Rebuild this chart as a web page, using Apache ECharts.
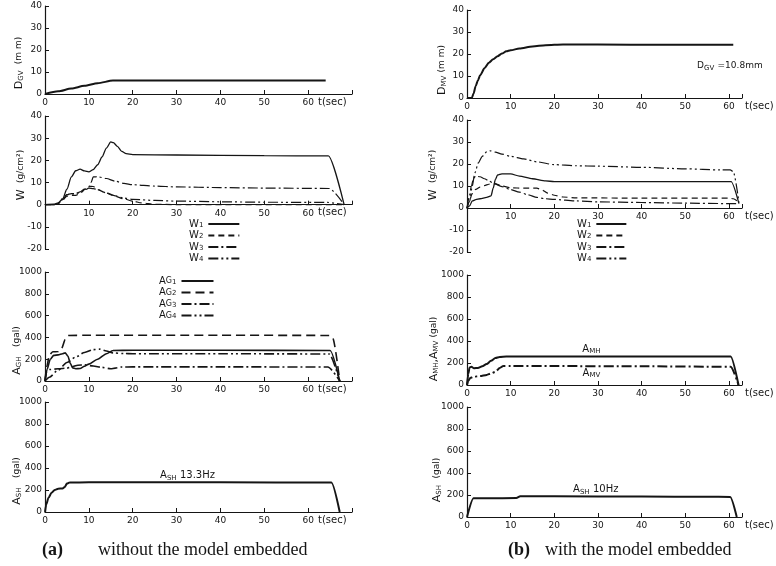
<!DOCTYPE html>
<html><head><meta charset="utf-8">
<script src="https://cdn.jsdelivr.net/npm/echarts@6/dist/echarts.min.js"></script>
<style>html,body{margin:0;padding:0;background:#fff}#c{width:776px;height:566px}</style>
</head><body><div id="c"></div>
<script>
// ---------- DATA (t in sec, value) ----------
// (a) without the model embedded
const dgvA = [[0,0],[3,1.2],[6,2.5],[9,3.7],[12,4.9],[15.5,6.1],[20,6.1],[40,6.1],[64,6.1]];
const w1A = [[0,0],[2,0.2],[3,0.8],[4,2.5],[5,7],[6,12.5],[7,15.3],[8,16],[9,15.2],[10,14.8],[11,15.8],[12,18],[13,21.5],[14,25.5],[15,28.3],[15.6,28],[16.5,26.3],[17.5,24],[18.5,23],[20,22.6],[30,22.4],[50,22.1],[64.6,22],[68.2,0]];
const w2A = [[0,0],[2,0],[3,0.5],[4,2],[5,3.8],[6,4.2],[7,4.2],[8,5],[9,6.8],[10,8.3],[11,8.2],[12,6.8],[14,5.2],[16,3.8],[18,2.6],[20,1.6],[22,0.8],[25,0.2],[30,0],[68.2,0]];
const w3A = [[0,0],[2,0],[3,0.5],[4,2.3],[5,4.5],[6,4.8],[7,5],[8,5.8],[9,7],[10,8],[10.5,10],[11,12.5],[12,12.6],[14,11.8],[16,10.6],[18,9.6],[20,9],[25,8.4],[30,8],[40,7.7],[50,7.5],[64.8,7.3],[68.2,0]];
const w4A = [[0,0],[2,0],[3,0.6],[4,2.8],[5,4.5],[6,5],[7,5],[8,5.5],[9,6.5],[10,7.5],[11,7.2],[12,6.8],[14,5.3],[16,4],[18,3],[20,2.4],[25,1.9],[30,1.6],[40,1.3],[50,1.1],[64.5,1],[68.2,0]];
const ag1A = [[0,0],[0.5,110],[1.2,200],[2,235],[3,240],[4,250],[4.6,258],[5.2,230],[5.8,160],[6.3,120],[7,112],[8,115],[9,135],[10,155],[12,200],[14,250],[15.5,280],[20,282],[40,282],[65,280],[67.2,0]];
const ag2A = [[0,0],[0.4,130],[1,240],[1.8,268],[3,270],[3.8,300],[4.6,380],[5.3,418],[10,420],[40,420],[64.8,418],[65.6,395],[67.2,0]];
const ag3A = [[0,0],[0.4,90],[1,105],[3,112],[5,118],[6,128],[7.5,145],[9,148],[11,138],[13,125],[15,112],[16,118],[17.5,128],[20,130],[40,130],[64.5,128],[67.2,0]];
const ag4A = [[0,0],[1,35],[3,100],[5,170],[7,220],[9,262],[11,288],[12.5,292],[14,275],[15.5,258],[18,252],[20,250],[40,250],[64.8,248],[67.2,0]];
const ashA = [[0,0],[0.3,70],[0.8,130],[1.5,175],[2.2,200],[3,212],[4,214],[4.5,228],[5,258],[5.6,268],[10,270],[40,270],[65.3,268],[67.2,0]];
// (b) with the model embedded
const dmvB = [[0,0],[1.1,0],[1.5,2],[2,5.5],[2.5,8],[3,10.3],[4,13.5],[5,16],[6,17.6],[7,19],[8,20.2],[9,21.2],[10,21.7],[12,22.5],[15,23.4],[18,24],[22,24.3],[30,24.3],[45,24.2],[61,24.2]];
const w1B = [[0,0],[0.6,1],[1.2,3.2],[2,3.8],[3,4.2],[4.5,4.8],[5.5,5.5],[6,9],[6.5,13],[7,15],[8,15.5],[10,15.5],[12,14.5],[15,13.3],[18,12.3],[20,12],[40,12],[60.5,12],[62.3,2]];
const w2B = [[0,0],[0.5,3],[1.2,6.5],[2,8.5],[3,9.5],[4,10.2],[5,10.8],[6.5,11],[8,10],[10,9.2],[13,9],[16,9],[17,8.4],[18.5,6.8],[20,5.8],[22,5],[25,4.6],[40,4.5],[60,4.5],[61,4.2],[62.3,2.5]];
const w3B = [[0,0],[0.5,5],[1,10],[1.5,13.5],[2,14.5],[3,14.2],[4,13.3],[5,12.3],[6,11.3],[8,9.7],[10,8.4],[12,7.2],[14,6],[16,4.8],[18,4.2],[20,3.9],[25,3.2],[30,2.8],[40,2.5],[50,2.2],[60,2],[62.3,2]];
const w4B = [[0,0],[0.6,3],[1.2,10],[1.8,16],[2.6,20.5],[3.5,23.5],[4.5,25.5],[5.3,26],[6.5,25.4],[8,24.5],[10,23.5],[13,22.3],[16,21],[20,19.7],[25,19.2],[30,19],[40,18.5],[50,17.8],[58,17.3],[60.3,17.3],[61,16.5],[62.3,2.5]];
const amhB = [[0,0],[0.3,100],[0.6,160],[1,165],[1.6,152],[2.5,155],[3.5,170],[4.5,190],[5.5,220],[6.5,245],[7.5,255],[9,258],[20,258],[40,258],[60.4,258],[62.2,0]];
const amvB = [[0,0],[0.3,40],[0.8,65],[1.5,75],[3,82],[4.5,92],[5.5,105],[6.5,120],[7.5,155],[8.3,172],[10,173],[20,172],[40,170],[60.4,166],[62.2,0]];
const ashB = [[0,0],[1.5,170],[5,170],[11.3,172],[12.2,188],[20,188],[40,186],[55,184],[60.3,182],[61.8,0]];

const wNames = ['W1','W2','W3','W4'];
const agNames = ['Ag1','Ag2','Ag3','Ag4'];
const xTicksShown = [0,10,20,30,40,50,60];
const xTicksShownW = [10,20,30,40,50,60];

// ---------- STYLE ----------
const FONT = 'DejaVu Sans';
const INK = '#151515';
const RICH = {
  m:{fontSize:11, fontFamily:FONT, color:INK, lineHeight:12},
  sb:{fontSize:7, fontFamily:FONT, color:INK, verticalAlign:'bottom', lineHeight:12},
  n:{fontSize:9, fontFamily:FONT, color:INK, lineHeight:12},
  a:{fontSize:10, fontFamily:FONT, color:INK, lineHeight:11},
  a9:{fontSize:9, fontFamily:FONT, color:INK, lineHeight:11},
  as:{fontSize:7, fontFamily:FONT, color:INK, verticalAlign:'bottom', lineHeight:11}
};
const DASH = {W2:[6,4], W3:[10,3,2,3], W4:[10,3,2,3,2,3]};

function xAx(i, right, isW, h){
  const shown = isW ? xTicksShownW : xTicksShown;
  return {type:'value', gridIndex:i, min:0, max: right?63:70, interval:10,
    offset: isW ? -h/3 : 0,
    axisLine:{onZero:false, lineStyle:{color:INK, width:1.2}},
    axisTick:{inside:true, length:4, lineStyle:{color:INK}},
    axisLabel:{color:INK, fontSize:9, fontFamily:FONT, margin:4,
      formatter:v => shown.indexOf(v)>=0 ? String(v) : ''},
    splitLine:{show:false},
    name:'t(sec)', nameLocation:'end', nameGap: right?3:-34,
    nameTextStyle:{color:INK, fontSize:10, fontFamily:FONT, verticalAlign:'top', align:'left', padding:[3,0,0,0]}
  };
}
function yAx(i, min, max, interval, name, gap, pad){
  return {type:'value', gridIndex:i, min, max, interval,
    axisLine:{show:true, onZero:false, lineStyle:{color:INK, width:1.2}},
    axisTick:{show:true, inside:true, length:4, lineStyle:{color:INK}},
    axisLabel:{color:INK, fontSize:9, fontFamily:FONT, margin:3, formatter:v => String(v)},
    splitLine:{show:false},
    name, nameLocation:'middle', nameGap:gap, nameMoveOverlap:false,
    nameTextStyle:{color:INK, fontFamily:FONT, fontSize:10, padding:pad, rich:RICH}
  };
}
function ln(name, data, i, type, width, extra){
  return Object.assign({type:'line', name, data, xAxisIndex:i, yAxisIndex:i,
    symbol:'none', showSymbol:false, silent:true, animation:false,
    smooth:0.25, smoothMonotone:'x',
    lineStyle:{color:INK, width:width||1.2, type:type||'solid'},
    itemStyle:{color:INK}}, extra||{});
}
function note(coord, text, pos, dist){
  return {symbol:'rect', symbolSize:1, itemStyle:{color:'rgba(0,0,0,0)'}, silent:true,
    label:{show:true, position:pos||'top', distance:dist||0, formatter:text, rich:RICH, color:INK},
    data:[{coord}]};
}
function legend(names, left, top, w, fmt){
  return {data:names, orient:'vertical', left, top, align:'right', padding:0,
    itemWidth:w, itemHeight:8, itemGap:1.5, selectedMode:false,
    itemStyle:{color:'rgba(0,0,0,0)', borderWidth:0, borderColor:'rgba(0,0,0,0)'},
    formatter:fmt,
    textStyle:{color:INK, rich:{
      m:{fontSize:10, fontFamily:FONT, color:INK, lineHeight:9},
      g:{fontSize:8, fontFamily:FONT, color:INK, lineHeight:9},
      sb:{fontSize:7, fontFamily:FONT, color:INK, verticalAlign:'bottom', lineHeight:9}}}};
}

const GH = [88,133,109,110,88,132,110,110];
const option = {
  backgroundColor:'#fff',
  animation:false,
  grid:[
    {left:45, top:6,   width:307, height:GH[0]},
    {left:45, top:116, width:307, height:GH[1]},
    {left:45, top:272, width:307, height:GH[2]},
    {left:45, top:402, width:307, height:GH[3]},
    {left:467, top:10,  width:275, height:GH[4]},
    {left:467, top:120, width:275, height:GH[5]},
    {left:467, top:275, width:275, height:GH[6]},
    {left:467, top:407, width:275, height:GH[7]}
  ],
  xAxis:[xAx(0,false,false),xAx(1,false,true,GH[1]),xAx(2,false,false),xAx(3,false,false),
         xAx(4,true,false),xAx(5,true,true,GH[5]),xAx(6,true,false),xAx(7,true,false)],
  yAxis:[
    yAx(0,0,40,10,'{m|D}{sb|GV}  {n|(m m)}',20,[0,26,0,0]),
    yAx(1,-20,40,10,'{m|W}  {n|(g/cm²)}',18,[0,0,0,15]),
    yAx(2,0,1000,200,'{m|A}{sb|GH}   {n|(gal)}',22,[0,48,0,0]),
    yAx(3,0,1000,200,'{m|A}{sb|SH}   {n|(gal)}',22,[0,48,0,0]),
    yAx(4,0,40,10,'{m|D}{sb|MV} {n|(m m)}',19,[0,32,0,0]),
    yAx(5,-20,40,10,'{m|W}  {n|(g/cm²)}',28,[0,0,0,22]),
    yAx(6,0,1000,200,'{m|A}{sb|MH}{m|,A}{sb|MV} {n|(gal)}',27,[0,38,0,0]),
    yAx(7,0,1000,200,'{m|A}{sb|SH}  {n|(gal)}',24,[0,36,0,0])
  ],
  legend:[
    legend(wNames, 189, 219, 31, n => '{m|W}{sb|'+n.slice(-1)+'}'),
    legend(agNames, 159, 276, 32, n => '{m|A}{g|G}{sb|'+n.slice(-1)+'}'),
    legend(wNames, 577, 219, 30, n => '{m|W}{sb|'+n.slice(-1)+'}')
  ],
  series:[
    ln('dgvA', dgvA, 0, 'solid', 2),
    ln('W1', w1A, 1, 'solid', 1.3),
    ln('W2', w2A, 1, DASH.W2, 1.2),
    ln('W3', w3A, 1, DASH.W3, 1.2),
    ln('W4', w4A, 1, DASH.W4, 1.2),
    ln('Ag1', ag1A, 2, 'solid', 1.6),
    ln('Ag2', ag2A, 2, [9,5], 1.6),
    ln('Ag3', ag3A, 2, DASH.W3, 1.6),
    ln('Ag4', ag4A, 2, DASH.W4, 1.6),
    ln('ashA', ashA, 3, 'solid', 2, {markPoint:note([32.5,272],'{a|A}{as|SH} {a|13.3Hz}','top',0)}),
    ln('dmvB', dmvB, 4, 'solid', 2, {markPoint:note([52.6,14.5],'{a9|D}{as|GV} {a9|=10.8mm}','right',0)}),
    ln('W1', w1B, 5, 'solid', 1.3),
    ln('W2', w2B, 5, DASH.W2, 1.2),
    ln('W3', w3B, 5, DASH.W3, 1.2),
    ln('W4', w4B, 5, DASH.W4, 1.2),
    ln('amhB', amhB, 6, 'solid', 2, {markPoint:note([28.5,260],'{a|A}{as|MH}','top',1)}),
    ln('amvB', amvB, 6, DASH.W3, 2, {markPoint:note([28.5,168],'{a|A}{as|MV}','bottom',1)}),
    ln('ashB', ashB, 7, 'solid', 2, {markPoint:note([29.5,190],'{a|A}{as|SH} {a|10Hz}','top',0)})
  ],
  graphic:[
    {type:'text', left:42, top:541, silent:true,
     style:{text:'(a)', fontSize:18, fontWeight:'bold', fontFamily:'Liberation Serif', fill:INK}},
    {type:'text', left:98, top:541, silent:true,
     style:{text:'without the model embedded', fontSize:18, fontFamily:'Liberation Serif', fill:INK}},
    {type:'text', left:508, top:541, silent:true,
     style:{text:'(b)', fontSize:18, fontWeight:'bold', fontFamily:'Liberation Serif', fill:INK}},
    {type:'text', left:545, top:541, silent:true,
     style:{text:'with the model embedded', fontSize:18, fontFamily:'Liberation Serif', fill:INK}}
  ]
};
const chart = echarts.init(document.getElementById('c'), null, {renderer:'canvas'});
chart.setOption(option);
</script></body></html>
